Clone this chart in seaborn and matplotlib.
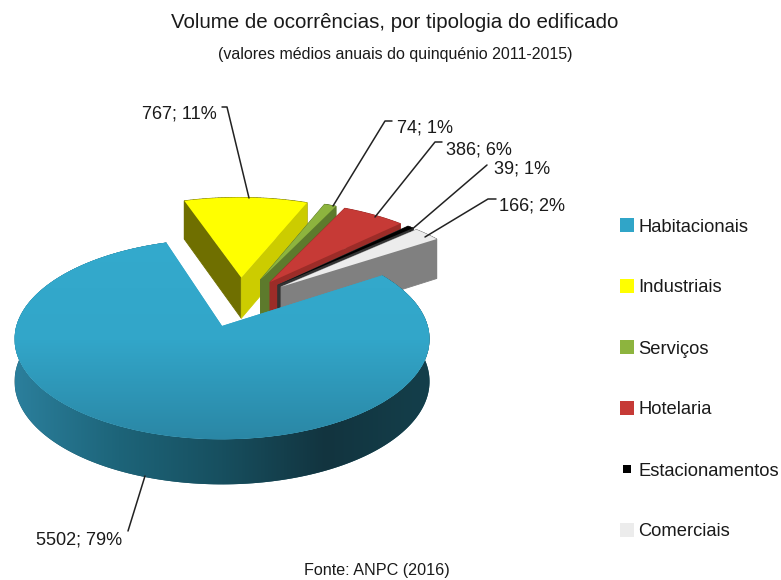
import numpy as np
import matplotlib
matplotlib.use("Agg")
import matplotlib.pyplot as plt
import seaborn as sns
from matplotlib.colors import LinearSegmentedColormap
from matplotlib.lines import Line2D
from matplotlib.patches import Polygon
from matplotlib.transforms import Transform

# values
categories = ["Habitacionais", "Industriais", "Serviços", "Hotelaria", "Estacionamentos", "Comerciais"]
ocorrencias = [5502, 767, 74, 386, 39, 166]
percentagens = [79, 11, 1, 6, 1, 2]

top_colors = ["#30a5c8", "#ffff00", "#8db43e", "#c63a36", "#000000", "#ececec"]
side_colors = ["#174f5f", "#6f6f00", "#5d7a2c", "#9c2c28", "#333333", "#808080"]

sns.set_theme(style="white")
plt.rcParams["font.family"] = ["Liberation Sans"]

# tilted view: unit pie -> pixels
CX, CY, A, B, K = 222.0, 326.0, 205.7, 98.5, 0.131


def project(xy):
    xy = np.asarray(xy, dtype=float)
    w = 1 + K * xy[:, 1]
    return np.column_stack([CX + A * xy[:, 0] / w, CY - B * xy[:, 1] / w])


class TiltTransform(Transform):
    input_dims = 2
    output_dims = 2
    is_affine = False
    has_inverse = False

    def transform_non_affine(self, values):
        return project(values)


def depth(xy):
    return 42 * (1 + K * np.asarray(xy)[:, 1]) ** -0.5


fig = plt.figure(figsize=(7.81, 5.8), dpi=100)
ax = fig.add_axes([0, 0, 1, 1])

wedges, _ = ax.pie(
    ocorrencias,
    colors=sns.color_palette(top_colors),
    explode=[0.27] * 6,
    startangle=33.4,
    counterclock=False,
    center=(0.09, 0.255),
    radius=1.0,
)

tilt = TiltTransform() + ax.transData


def quad(p, q, dp, dq, color, z):
    ax.fill([p[0], q[0], q[0], p[0]], [p[1], q[1], q[1] + dq, p[1] + dp],
            color=color, lw=0.6, zorder=z)


# back to front
for z, i in enumerate([1, 2, 3, 4, 5, 0]):
    w = wedges[i]
    if i != 0:
        w.set_radius(1.05)
    w.set_transform(tilt)
    w.set_linewidth(0)
    w.set_zorder(z + 0.5)

    th = np.radians(np.linspace(w.theta1, w.theta2, 240 if i == 0 else 40))
    arc = np.column_stack([w.center[0] + w.r * np.cos(th), w.center[1] + w.r * np.sin(th)])
    px, h = project(arc), depth(arc)

    if i == 0:
        # rim of the big slice, shaded left to right
        rim = Polygon(np.vstack([px, (px + np.column_stack([0 * h, h]))[::-1]]),
                      facecolor=side_colors[0], edgecolor="none", zorder=z)
        ax.add_patch(rim)
        rim_cmap = LinearSegmentedColormap.from_list(
            "lado", ["#2b7f9c", "#1d6479", "#174f5f", "#12343f", "#143f4b"]
        )
        rim_img = ax.imshow(np.linspace(0, 1, 256).reshape(1, -1), extent=(15, 430, 500, 240),
                            cmap=rim_cmap, aspect="auto", zorder=z + 0.1)
        rim_img.set_clip_path(rim)
        continue

    for j in range(len(px) - 1):
        quad(px[j], px[j + 1], h[j], h[j + 1], side_colors[i], z)

    apex = project([w.center])[0]
    h0 = depth([w.center])[0]
    right = "#cccc00" if i == 1 else side_colors[i]
    quad(apex, px[-1], h0, h[-1], side_colors[i], z + 0.1)
    quad(apex, px[0], h0, h[0], right, z + 0.1)

# shading on the big slice
grad = LinearSegmentedColormap.from_list("topo", ["#34aacd", "#32a6c9", "#2a85a3"])
img = ax.imshow(np.linspace(0, 1, 256).reshape(-1, 1), extent=(0, 781, 445, 235), cmap=grad,
                aspect="auto", zorder=5.6)
img.set_clip_path(wedges[0])

# leader lines and labels
leaders = [
    ([145, 128], [476, 531]),
    ([222, 227, 249], [107, 107, 198]),
    ([392, 385, 333], [121, 121, 206]),
    ([442, 435, 375], [142, 142, 217]),
    ([487, 410], [165, 231]),
    ([496, 488, 425], [199, 199, 237]),
]
label_pos = [(36, 540), (142, 114), (397, 128), (446, 150), (494, 169), (499, 206)]
for (lx, ly), (tx, ty), v, p in zip(leaders, label_pos, ocorrencias, percentagens):
    ax.plot(lx, ly, color="#222222", lw=1.1, zorder=8)
    ax.text(tx, ty, f"{v}; {p}%", ha="left", va="center", fontsize=13.1, color="#1a1a1a", zorder=9)

# legend
sizes = [10, 10, 10, 10, 5.5, 10]
handles = [
    Line2D([], [], ls="", marker="s", markersize=s, mew=0, color=c)
    for c, s in zip(top_colors, sizes)
]
ax.legend(
    handles, categories, loc="upper left", bbox_to_anchor=(620, 218.5), bbox_transform=ax.transData,
    frameon=False, fontsize=13.2, labelspacing=2.4, handlelength=0.77, handletextpad=0.22,
    borderpad=0, borderaxespad=0, labelcolor="#1a1a1a",
)

ax.text(395, 23, "Volume de ocorrências, por tipologia do edificado", ha="center", va="center",
        fontsize=14.8, color="#1a1a1a")
ax.text(395, 55, "(valores médios anuais do quinquénio 2011-2015)", ha="center", va="center",
        fontsize=11.55, color="#1a1a1a")
ax.text(377, 570, "Fonte: ANPC (2016)", ha="center", va="center", fontsize=11.6, color="#1a1a1a")

ax.set_aspect("auto")
ax.set_xlim(0, 781)
ax.set_ylim(580, 0)
ax.axis("off")

fig.savefig("out.png", dpi=100, facecolor="white")
